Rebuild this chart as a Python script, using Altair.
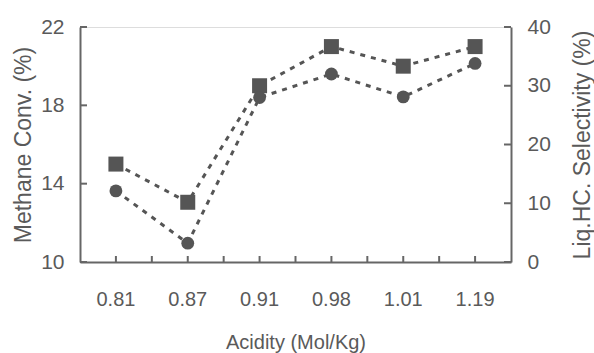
import altair as alt
import pandas as pd

# ---- data ----
acidity = ["0.81", "0.87", "0.91", "0.98", "1.01", "1.19"]
methane_conv = [15.0, 13.05, 19.0, 21.0, 20.0, 21.0]        # squares, left axis
liq_hc_selectivity = [12.1, 3.2, 28.0, 32.0, 28.1, 33.8]    # circles, right axis
left_ticks = [10, 14, 18, 22]
right_ticks = [0, 10, 20, 30, 40]

df = pd.DataFrame({"acidity": acidity, "methane": methane_conv, "selectivity": liq_hc_selectivity})
df_lt = pd.DataFrame({"methane": left_ticks})
df_rt = pd.DataFrame({"selectivity": right_ticks})
df_xc = pd.DataFrame({"acidity": acidity})
df_xb = pd.DataFrame({"acidity": acidity[1:]})

W, H = 431, 235
INK = "#555555"
TXT = "#5a5a5a"
AX = "#666666"
FONT = "Liberation Sans"
TICK = 7

x_scale = alt.Scale(type="band", paddingInner=0, paddingOuter=0, domain=acidity)
x_axis = alt.Axis(title="Acidity (Mol/Kg)", ticks=False, grid=False, domain=True,
                  domainColor=AX, domainWidth=2, labelAngle=0,
                  labelFont=FONT, labelFontSize=20, labelColor=TXT, labelPadding=27,
                  titleFont=FONT, titleFontSize=20, titleFontWeight="normal",
                  titleColor=TXT, titlePadding=23)
X = alt.X("acidity:N", sort=acidity, scale=x_scale, axis=x_axis)
Xb = alt.X("acidity:N", sort=acidity, scale=x_scale, axis=x_axis, bandPosition=0)

yl_scale = alt.Scale(domain=[10, 22], nice=False, zero=False)
yl_axis = alt.Axis(orient="left", values=left_ticks, ticks=False, grid=False, domain=True,
                   domainColor=AX, domainWidth=2,
                   labelFont=FONT, labelFontSize=21, labelColor=TXT, labelPadding=16,
                   title="Methane Conv. (%)", titleFont=FONT, titleFontSize=23,
                   titleFontWeight="normal", titleColor=TXT, titlePadding=5)
YL = alt.Y("methane:Q", scale=yl_scale, axis=yl_axis)

yr_scale = alt.Scale(domain=[0, 40], nice=False)
yr_axis = alt.Axis(orient="right", values=right_ticks, ticks=False, grid=False, domain=True,
                   domainColor=AX, domainWidth=2,
                   labelFont=FONT, labelFontSize=21, labelColor=TXT, labelPadding=16,
                   title="Liq.HC. Selectivity (%)", titleFont=FONT, titleFontSize=23,
                   titleFontWeight="normal", titleColor=TXT, titleAngle=270,
                   titleX=71, titleY=H / 2, titleAlign="center", titleBaseline="middle")
YR = alt.Y("selectivity:Q", scale=yr_scale, axis=yr_axis)

dash = [5, 6]

sq_line = alt.Chart(df).mark_line(color=INK, strokeWidth=3, strokeDash=dash).encode(x=X, y=YL)
sq_pts = alt.Chart(df).mark_point(shape="square", filled=True, size=225, color=INK, opacity=1).encode(x=X, y=YL)
lt = alt.Chart(df_lt).mark_rule(color=AX, strokeWidth=2).encode(y=YL, x=alt.value(0), x2=alt.value(TICK))
xt_c = alt.Chart(df_xc).mark_rule(color=AX, strokeWidth=2).encode(x=X, y=alt.value(H), y2=alt.value(H - 6))
xt_b = alt.Chart(df_xb).mark_rule(color=AX, strokeWidth=2).encode(x=Xb, y=alt.value(H), y2=alt.value(H - 6))

ci_line = alt.Chart(df).mark_line(color=INK, strokeWidth=3, strokeDash=dash).encode(x=X, y=YR)
ci_pts = alt.Chart(df).mark_circle(size=165, color=INK, opacity=1).encode(x=X, y=YR)
rt = alt.Chart(df_rt).mark_rule(color=AX, strokeWidth=2).encode(y=YR, x=alt.value(W - TICK), x2=alt.value(W))

left = alt.layer(lt, xt_c, xt_b, sq_line, sq_pts)
right = alt.layer(rt, ci_line, ci_pts)

chart = alt.layer(left, right).resolve_scale(y="independent").properties(
    width=W, height=H,
    padding={"left": 80, "top": 27, "right": 83, "bottom": 91},
    autosize=alt.AutoSizeParams(type="none"),
).configure_view(stroke=None).configure(background="white")

chart.save("out.html", embed_options={"renderer": "svg", "actions": False})
